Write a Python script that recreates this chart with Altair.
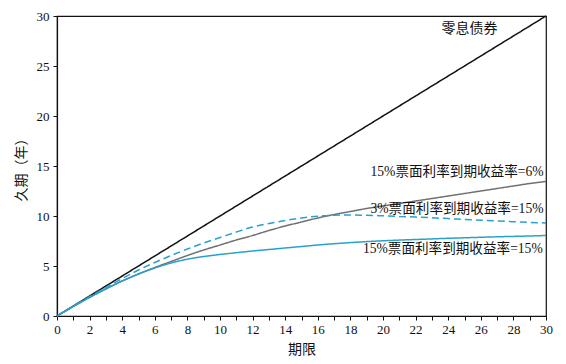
import altair as alt
import pandas as pd

years = list(range(0, 31))
zero_coupon = [float(v) for v in range(0, 31)]
c15_y6 = [0, 0.96, 1.88, 2.72, 3.5, 4.2, 4.85, 5.45, 6.05, 6.6, 7.1, 7.6, 8.05, 8.55,
          9.0, 9.4, 9.8, 10.15, 10.45, 10.75, 11.0, 11.25, 11.5, 11.75, 12.0,
          12.25, 12.5, 12.75, 13.0, 13.25, 13.45]
c3_y15 = [0, 0.98, 1.93, 2.85, 3.75, 4.6, 5.35, 6.05, 6.7, 7.3, 7.85, 8.4, 8.9, 9.25,
          9.55, 9.8, 9.98, 10.08, 10.1, 10.07, 10.02, 9.96, 9.89, 9.82, 9.74, 9.66,
          9.58, 9.5, 9.43, 9.36, 9.3]
c15_y15 = [0, 0.95, 1.85, 2.7, 3.5, 4.2, 4.8, 5.3, 5.68, 5.95, 6.15, 6.33, 6.5,
           6.65, 6.8, 6.95, 7.1, 7.23, 7.34, 7.44, 7.52, 7.59, 7.65, 7.71, 7.77,
           7.82, 7.87, 7.92, 7.96, 8.0, 8.05]

series_names = ["零息债券", "15%票面利率到期收益率=6%", "3%票面利率到期收益率=15%", "15%票面利率到期收益率=15%"]
series_values = [zero_coupon, c15_y6, c3_y15, c15_y15]
series_colors = ["#111111", "#707070", "#2aa0cc", "#2aa0cc"]
series_dash = [[1, 0], [1, 0], [7, 4], [1, 0]]

label_text = series_names
label_x = [25.3, 29.85, 29.85, 29.8]
label_y = [28.7, 14.36, 10.75, 6.66]

x_ticks = list(range(0, 31))
y_ticks = [0, 5, 10, 15, 20, 25, 30]

FONT = "'Liberation Serif', 'Times New Roman', 'Noto Sans CJK SC', serif"

rows = []
for name, vals in zip(series_names, series_values):
    for x, v in zip(years, vals):
        rows.append({"series": name, "x": x, "y": v})
df = pd.DataFrame(rows)

xscale = alt.Scale(domain=[0, 30], nice=False, zero=True)
yscale = alt.Scale(domain=[0, 30], nice=False)

xaxis = alt.Axis(title="期限", values=x_ticks,
                 labelExpr="datum.value % 2 == 0 ? datum.label : ''",
                 labelOverlap=False, labelFlush=False,
                 grid=False, tickSize=4, labelPadding=3, titlePadding=6)
yaxis = alt.Axis(title="久期（年）", values=y_ticks,
                 labelOverlap=False, labelFlush=False,
                 grid=False, tickSize=4, labelPadding=4, titlePadding=8)

lines = alt.Chart(df).mark_line(strokeWidth=1.5, interpolate="monotone").encode(
    x=alt.X("x:Q", scale=xscale, axis=xaxis),
    y=alt.Y("y:Q", scale=yscale, axis=yaxis),
    color=alt.Color("series:N", scale=alt.Scale(domain=series_names, range=series_colors), legend=None),
    strokeDash=alt.StrokeDash("series:N", scale=alt.Scale(domain=series_names, range=series_dash), legend=None),
    detail="series:N",
)

lab = pd.DataFrame({"t": label_text, "x": label_x, "y": label_y})
text_zero = alt.Chart(lab.iloc[[0]]).mark_text(align="center", baseline="middle", fontSize=14,
                                                font=FONT, color="#111111").encode(
    x=alt.X("x:Q", scale=xscale, axis=xaxis),
    y=alt.Y("y:Q", scale=yscale, axis=yaxis),
    text="t:N")
text_rest = alt.Chart(lab.iloc[1:]).mark_text(align="right", baseline="middle", fontSize=13.6,
                                               font=FONT, color="#111111").encode(
    x=alt.X("x:Q", scale=xscale, axis=xaxis),
    y=alt.Y("y:Q", scale=yscale, axis=yaxis),
    text="t:N")

chart = alt.layer(lines, text_zero, text_rest).properties(
    width=489, height=300,
    autosize=alt.AutoSizeParams(type="none"),
    padding={"left": 49, "top": 8, "right": 12, "bottom": 40},
).configure_view(stroke="#111111", strokeWidth=1.2).configure_axis(
    domainColor="#111111", tickColor="#111111", labelColor="#111111", titleColor="#111111",
    labelFont=FONT, titleFont=FONT, labelFontSize=13, titleFontSize=14, titleFontWeight="normal",
    domainWidth=1.2,
)

chart.save("out.html", embed_options={"renderer": "svg", "actions": False})
